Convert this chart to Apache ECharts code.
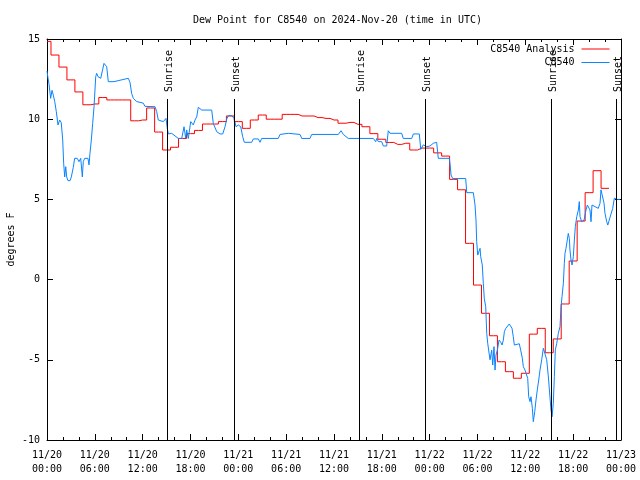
<!DOCTYPE html>
<html>
<head>
<meta charset="utf-8">
<script src="https://cdn.jsdelivr.net/npm/echarts@6/dist/echarts.min.js"></script>
<style>html,body{margin:0;padding:0;background:#fff}#c{width:640px;height:480px}</style>
</head>
<body>
<div id="c"></div>
<script>
// Hours since 2024-11-20 00:00 UTC
const analysisHours = [0,1,2,3,4,5,6,7,8,9,10,11,12,13,14,15,16,17,18,19,20,21,22,23,24,25,26,27,28,29,30,31,32,33,34,35,36,37,38,39,40,41,42,43,44,45,46,47,48,49,50,51,52,53,54,55,56,57,58,59,60,61,62,63,64,65,66,67,68,69,70];
const analysisValues = [14.85,14.0,13.25,12.45,11.7,10.9,10.95,11.35,11.2,11.2,11.2,9.9,9.95,10.7,9.2,8.08,8.25,8.8,9.1,9.3,9.7,9.7,9.85,10.2,9.85,9.43,9.95,10.26,10.0,10.0,10.3,10.3,10.2,10.2,10.1,10.05,9.95,9.75,9.8,9.68,9.53,9.1,8.75,8.55,8.43,8.5,8.08,8.2,8.2,7.9,7.7,6.25,5.6,2.26,-0.34,-2.1,-3.5,-5.12,-5.74,-6.15,-5.84,-3.4,-3.04,-4.56,-3.7,-1.52,1.16,3.65,5.42,6.79,5.69];

const obsHours = [0,0.13,0.25,0.46,0.63,0.79,0.97,1.17,1.38,1.59,1.79,1.97,2.09,2.22,2.35,2.47,2.63,2.89,3.05,3.30,3.47,3.80,4.01,4.23,4.43,4.55,4.73,5.14,5.27,5.39,5.56,5.73,5.90,6.11,6.23,6.40,6.74,6.94,7.15,7.28,7.49,7.69,8.40,10.20,10.41,10.62,10.83,11.25,12.08,12.29,13.55,13.76,13.96,14.59,14.93,15.09,15.22,15.64,15.84,16.47,16.90,17.19,17.40,17.52,17.72,18.03,18.35,18.57,18.78,18.98,19.41,20.66,20.86,21.29,21.70,22.04,22.33,22.54,22.74,23.17,23.37,23.46,23.71,24.00,24.30,24.55,24.75,25.68,25.88,26.51,26.72,26.93,29.01,29.23,30.27,31.74,31.95,32.99,33.20,36.54,36.88,37.17,37.79,40.93,41.23,41.36,41.56,41.98,42.19,42.61,42.81,43.03,44.49,44.69,45.75,45.95,46.70,46.88,47.20,47.63,48.04,48.46,48.88,49.08,50.46,50.55,50.68,50.89,52.52,52.65,53.48,53.69,53.81,53.90,54.03,54.15,54.32,54.40,54.53,54.60,54.73,54.85,55.03,55.16,55.28,55.44,55.57,55.78,55.91,56.07,56.20,56.32,56.49,56.70,56.91,57.08,57.24,57.37,57.54,57.74,57.99,58.20,58.33,58.49,58.62,58.83,59.24,59.42,59.62,59.75,59.96,60.17,60.30,60.42,60.59,60.71,60.88,61.00,61.18,61.34,61.50,61.68,61.84,62.05,62.26,62.47,62.68,62.88,63.10,63.22,63.35,63.51,63.64,63.76,63.94,64.14,64.35,64.48,64.60,64.77,64.89,64.98,65.10,65.27,65.39,65.52,65.60,65.73,65.86,66.02,66.15,66.27,66.45,66.65,66.77,66.86,67.07,67.36,67.61,67.78,67.99,68.11,68.24,68.36,68.74,68.95,69.15,69.37,69.49,69.70,69.87,69.99,70.21,70.34,70.46,70.71,70.96,71.16,71.37,71.54,71.88];
const obsValues = [13.0,12.55,12.2,11.3,11.8,11.5,11.1,10.47,9.64,9.95,9.78,8.7,7.25,6.4,7.04,6.4,6.17,6.17,6.4,7.0,7.56,7.56,7.35,7.56,6.4,7.35,7.56,7.56,7.15,7.87,8.7,9.74,10.78,12.65,12.86,12.65,12.55,12.55,13.48,13.55,13.27,12.34,12.34,12.55,12.3,11.6,11.3,11.1,11.0,10.8,10.78,10.47,9.95,9.85,10.05,9.43,9.08,9.12,9.0,8.8,8.8,9.53,8.8,9.33,8.8,9.85,9.64,9.95,10.15,10.74,10.57,10.57,9.74,9.22,9.08,9.08,9.53,10.0,10.22,10.22,10.1,10.05,9.53,9.64,9.53,8.9,8.56,8.56,8.77,8.77,8.56,8.8,8.8,9.05,9.12,9.05,8.8,8.8,9.05,9.05,9.28,9.05,8.8,8.8,8.6,8.8,8.6,8.6,8.33,8.33,9.28,9.12,9.12,8.8,8.8,9.08,9.08,8.12,8.4,8.29,8.33,8.5,8.56,7.56,7.56,7.25,6.52,6.3,6.3,5.42,5.42,4.65,3.72,2.36,1.53,1.53,1.95,1.43,1.43,0.91,-0.23,-1.17,-1.69,-3.35,-3.97,-3.87,-5.0,-4.4,-5.33,-4.18,-5.64,-4.7,-4.4,-3.77,-3.9,-4.08,-3.77,-3.25,-3.04,-2.93,-2.77,-2.8,-3.04,-3.56,-4.08,-3.97,-4.0,-4.4,-4.9,-5.43,-5.64,-5.64,-6.16,-7.3,-7.61,-7.3,-8.02,-8.86,-8.23,-7.5,-6.88,-6.26,-5.64,-5.0,-4.28,-4.4,-5.0,-6.0,-7.4,-8.13,-8.55,-7.71,-6.05,-4.4,-3.97,-3.35,-2.93,-1.69,-1.07,-0.23,1.02,1.64,1.95,1.95,2.88,2.57,1.84,1.22,0.91,1.43,2.47,3.3,3.92,4.34,4.86,3.92,3.61,3.7,4.34,4.65,4.55,4.34,3.61,4.65,4.55,4.44,4.44,4.76,5.6,5.6,4.76,4.13,3.61,3.4,3.6,4.03,4.44,5.07,5.17,5.0,5.0];

const sunHours = [15.05, 23.46, 39.14, 47.42, 63.22, 71.37];
const sunLabels = ['Sunrise', 'Sunset', 'Sunrise', 'Sunset', 'Sunrise', 'Sunset'];

const yTicks = [-10, -5, 0, 5, 10, 15];
const xStartDay = 20;
const titleText = 'Dew Point for C8540 on 2024-Nov-20 (time in UTC)';

const FONT = 'DejaVu Sans Mono';
const redData = analysisHours.map((h, i) => [h, analysisValues[i]]);
redData.push([analysisHours[analysisHours.length - 1] + 0.5, analysisValues[analysisValues.length - 1]]);
const blueData = obsHours.map((h, i) => [h, obsValues[i]]);
const sunData = sunHours.map((h, i) => [h, i]);

function pad(n) { return (n < 10 ? '0' : '') + n; }

const chart = echarts.init(document.getElementById('c'), null, {renderer: 'canvas'});
const axisLineStyle = {show: true, onZero: false, lineStyle: {color: '#000', width: 1}};
chart.setOption({
  animation: false,
  backgroundColor: '#fff',
  textStyle: {fontFamily: FONT},
  title: {
    text: titleText, left: 188, top: 10,
    textStyle: {fontFamily: FONT, fontSize: 10, fontWeight: 'normal', color: '#000'}
  },
  legend: {
    orient: 'vertical', align: 'right', right: 30.5, top: 43, padding: 0,
    itemWidth: 28, itemHeight: 1, itemGap: 1.5, icon: 'rect',
    textStyle: {fontFamily: FONT, fontSize: 10, color: '#000', lineHeight: 12, padding: [0, 2, 0, 0]},
    data: ['C8540 Analysis', 'C8540']
  },
  grid: {left: 47, right: 19, top: 39, bottom: 40, containLabel: false, outerBoundsMode: 'none'},
  xAxis: [
    {
      type: 'value', min: 0, max: 72, interval: 6,
      axisLine: axisLineStyle, splitLine: {show: false},
      axisTick: {show: true, inside: true, length: 6, lineStyle: {color: '#000'}},
      minorTick: {show: true, splitNumber: 3, length: 3, lineStyle: {color: '#000'}},
      axisLabel: {
        fontFamily: FONT, fontSize: 10, color: '#000', margin: 8, lineHeight: 14,
        formatter: function (v) {
          const d = xStartDay + Math.floor(v / 24);
          return '11/' + d + '\n' + pad(v % 24) + ':00';
        }
      }
    },
    {
      type: 'value', min: 0, max: 72, interval: 6, position: 'top',
      axisLine: axisLineStyle, splitLine: {show: false},
      axisTick: {show: true, inside: true, length: 6, lineStyle: {color: '#000'}},
      minorTick: {show: true, splitNumber: 3, length: 3, lineStyle: {color: '#000'}},
      axisLabel: {show: false}
    }
  ],
  yAxis: [
    {
      type: 'value', min: yTicks[0], max: yTicks[yTicks.length - 1], interval: 5,
      axisLine: axisLineStyle, splitLine: {show: false},
      name: 'degrees F', nameLocation: 'middle', nameGap: 31, nameMoveOverlap: false,
      nameTextStyle: {fontFamily: FONT, fontSize: 10, color: '#000'},
      axisTick: {show: true, inside: true, length: 6, lineStyle: {color: '#000'}},
      axisLabel: {fontFamily: FONT, fontSize: 10, color: '#000', margin: 7}
    },
    {
      type: 'value', min: yTicks[0], max: yTicks[yTicks.length - 1], interval: 5, position: 'right',
      axisLine: axisLineStyle, splitLine: {show: false},
      axisTick: {show: true, inside: true, length: 6, lineStyle: {color: '#000'}},
      axisLabel: {show: false}
    }
  ],
  series: [
    {
      name: 'C8540 Analysis', type: 'line', step: 'middle', data: redData,
      showSymbol: false, symbol: 'none', color: '#ff0000',
      lineStyle: {color: '#ff0000', width: 1}, z: 3
    },
    {
      name: 'C8540', type: 'line', data: blueData,
      showSymbol: false, symbol: 'none', color: '#0a84ff',
      lineStyle: {color: '#0a84ff', width: 1}, z: 4
    },
    {
      name: 'sun', type: 'custom', data: sunData, clip: false, z: 5,
      renderItem: function (params, api) {
        const h = api.value(0);
        const idx = api.value(1);
        const top = api.coord([h, 11.26]);
        const bot = api.coord([h, yTicks[0]]);
        const x = Math.round(top[0]) + 0.5;
        return {
          type: 'group',
          children: [
            {type: 'line', shape: {x1: x, y1: Math.round(top[1]), x2: x, y2: bot[1]},
             style: {stroke: '#000', lineWidth: 1}},
            {type: 'text', x: x + 1.5, y: Math.round(top[1]) - 7, rotation: Math.PI / 2,
             style: {text: sunLabels[idx], font: '10px "' + FONT + '"', fill: '#000',
                     align: 'left', verticalAlign: 'middle'}}
          ]
        };
      }
    }
  ]
});
</script>
</body>
</html>
